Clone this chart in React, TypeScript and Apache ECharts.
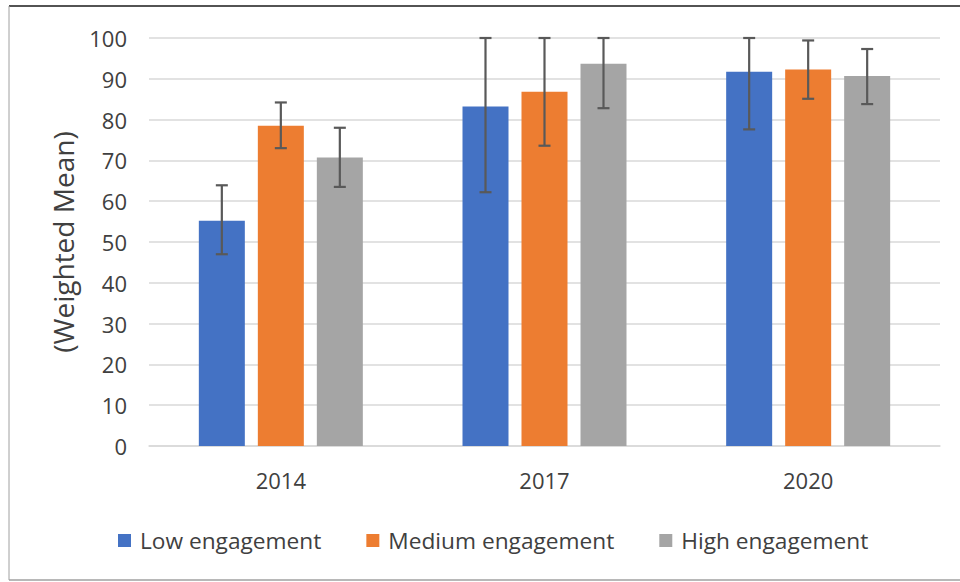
import React, { useEffect, useRef } from "react";
import * as echarts from "echarts";

const categories = ["2014", "2017", "2020"];
const seriesNames = ["Low engagement", "Medium engagement", "High engagement"];
const lowValues = [55.2, 83.2, 91.7];
const mediumValues = [78.5, 86.8, 92.3];
const highValues = [70.7, 93.7, 90.7];
const lowErrors = [[47.0, 63.9], [62.2, 100], [77.6, 100]];
const mediumErrors = [[73.0, 84.2], [73.6, 100], [85.1, 99.4]];
const highErrors = [[63.5, 78.0], [82.8, 100], [83.8, 97.3]];
const yTicks = { min: 0, max: 100, interval: 10 };

const colors = ["#4472C4", "#ED7D31", "#A5A5A5"];
const BAR_W = 46;
const BAR_GAP = 13;
const FONT = "'Open Sans', 'Noto Sans', sans-serif";
const TEXT = "#404040";

export default function App() {
  const ref = useRef<HTMLDivElement>(null);
  useEffect(() => {
    const chart = echarts.init(ref.current!, null, { renderer: "svg" });
    const values = [lowValues, mediumValues, highValues];
    const errors = [lowErrors, mediumErrors, highErrors];

    const barSeries = seriesNames.map((name, i) => ({
      name,
      type: "bar",
      data: values[i],
      barWidth: BAR_W,
      barGap: `${(BAR_GAP / BAR_W) * 100}%`,
      itemStyle: { color: colors[i] },
      z: 2,
    }));

    const errSeries = seriesNames.map((name, i) => ({
      name: name + " error",
      type: "custom",
      data: errors[i].map((e, j) => [j, e[0], e[1]]),
      z: 5,
      renderItem: (params: any, api: any) => {
        const cat = api.value(0);
        const lo = api.coord([cat, api.value(1)]);
        const hi = api.coord([cat, api.value(2)]);
        const off = (i - 1) * (BAR_W + BAR_GAP);
        const x = lo[0] + off;
        const cap = 6;
        const style = { stroke: "#595959", lineWidth: 2.2 };
        return {
          type: "group",
          children: [
            { type: "line", shape: { x1: x, y1: lo[1], x2: x, y2: hi[1] }, style },
            { type: "line", shape: { x1: x - cap, y1: lo[1], x2: x + cap, y2: lo[1] }, style },
            { type: "line", shape: { x1: x - cap, y1: hi[1], x2: x + cap, y2: hi[1] }, style },
          ],
        };
      },
    }));

    chart.setOption({
      animation: false,
      backgroundColor: "#ffffff",
      textStyle: { fontFamily: FONT },
      grid: { left: 149, right: 20, top: 38, bottom: 136, containLabel: false },
      legend: {
        data: seriesNames,
        top: 524,
        left: 113,
        icon: "rect",
        itemWidth: 13,
        itemHeight: 13,
        itemGap: 45,
        textStyle: { fontSize: 22.7, color: TEXT, fontFamily: FONT, padding: [0, 0, 0, 4] },
      },
      xAxis: {
        type: "category",
        data: categories,
        axisLine: { show: true, lineStyle: { color: "#d9d9d9", width: 1.5 } },
        axisTick: { show: false },
        axisLabel: { fontSize: 22, color: TEXT, margin: 23, fontFamily: FONT },
      },
      yAxis: {
        type: "value",
        min: yTicks.min,
        max: yTicks.max,
        interval: yTicks.interval,
        name: "(Weighted Mean)",
        nameLocation: "middle",
        nameRotate: 90,
        nameGap: 72,
        nameTextStyle: { fontSize: 28, color: TEXT, fontFamily: FONT },
        axisLine: { show: false },
        axisTick: { show: false },
        axisLabel: { fontSize: 22, color: TEXT, margin: 22, fontFamily: FONT },
        splitLine: { lineStyle: { color: "#d9d9d9", width: 1.5 } },
      },
      graphic: [
        { type: "line", shape: { x1: 9, y1: 6, x2: 960, y2: 6 }, style: { stroke: "#1a1a1a", lineWidth: 1.5 } },
        { type: "line", shape: { x1: 9, y1: 6, x2: 9, y2: 580 }, style: { stroke: "#a0a0a0", lineWidth: 1 } },
        { type: "line", shape: { x1: 9, y1: 580, x2: 960, y2: 580 }, style: { stroke: "#a0a0a0", lineWidth: 1.5 } },
      ],
      series: [...barSeries, ...errSeries],
    });
    return () => chart.dispose();
  }, []);
  return (
    <div
      ref={ref}
      style={{ position: "fixed", left: 0, top: 0, width: 960, height: 582 }}
    />
  );
}
